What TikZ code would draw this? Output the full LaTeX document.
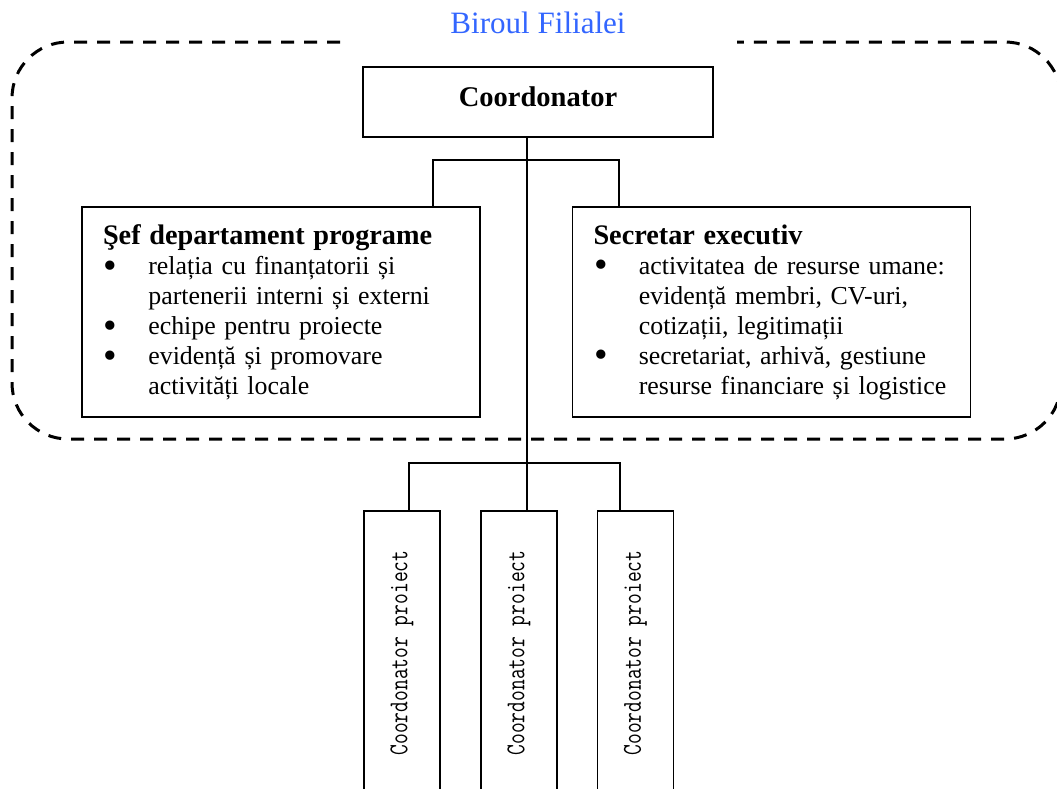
\documentclass[tikz,border=0pt]{standalone}
\usepackage{fontspec}
\usepackage{graphicx}
\usepackage{tikz}
\usetikzlibrary{positioning}
\setmainfont{Liberation Serif}

\definecolor{titleblue}{RGB}{51,102,255}
\newcommand{\bul}{\makebox[34pt][l]{\hspace{0.5pt}\raisebox{-2.9pt}[0pt][0pt]{\scalebox{1.5}{\textbullet}}}}
\newcommand{\ind}{\hspace*{34pt}}
\newcommand{\head}[1]{{\fontsize{21.2}{22.5}\selectfont\bfseries #1}}
\newcommand{\projtext}{\scalebox{1}[1.3]{\ttfamily\fontsize{15.7}{16}\selectfont Coordonator proiect}}

\begin{document}
\begin{tikzpicture}[x=0.75pt, y=-0.75pt,
        box/.style={draw, line width=1.3pt, rectangle},
        dept/.style={box, minimum width=298.5pt, minimum height=157.5pt, text width=267pt, inner xsep=15.75pt, align=left, font=\fontsize{19.4}{22.5}\selectfont},
        projbox/.style={box, rotate=90, minimum width=213pt, minimum height=57pt, inner sep=0pt},
        link/.style={line width=1.3pt}]
    \useasboundingbox (0,0) rectangle (1057,789);
    \clip (0,0) rectangle (1057,789);

    % office frame
    \draw[line width=2.25pt, dash pattern=on 9.75pt off 7.5pt, rounded corners=42pt]
        (340,42) -- (12,42) -- (12,439) -- (1061,439) -- (1061,42) -- (737,42);
    \node[text=titleblue, font=\fontsize{23.3}{26}\selectfont, anchor=base] (title) at (538,33) {Biroul Filialei};

    \node[box, minimum width=262.5pt, minimum height=52.5pt, text depth=8.5pt, font=\fontsize{21.4}{24}\selectfont\bfseries] (coord) at (538,102) {Coordonator};

    \node[dept] (prog) at (281,312) {\head{Şef departament programe}\\
        \bul relația cu finanțatorii și\\
        \ind partenerii interni și externi\\
        \bul echipe pentru proiecte\\
        \bul evidență și promovare\\
        \ind activități locale};
    \node[dept] (secr) at (771.5,312) {\head{Secretar executiv}\\
        \bul activitatea de resurse umane:\\
        \ind evidență membri, CV-uri,\\
        \ind cotizații, legitimații\\
        \bul secretariat, arhivă, gestiune\\
        \ind resurse financiare și logistice};

    % project coordinators
    \node[projbox] (p1) at (402,653) {\projtext};
    \node[projbox] (p2) at (519,653) {\projtext};
    \node[projbox] (p3) at (635.5,653) {\projtext};

    \coordinate (ja) at (433,160);
    \coordinate (jc) at (527,160);
    \coordinate (jb) at (619,160);
    \coordinate (ka) at (409,463);
    \coordinate (kc) at (527,463);
    \coordinate (kb) at (620,463);

    \draw[link] (jc |- coord.south) -- (kc |- p2.east);
    \draw[link] (ja |- prog.north) -- (ja) -- (jb) -- (jb |- secr.north);
    \draw[link] (ka |- p1.east) -- (ka) -- (kb) -- (kb |- p3.east);
\end{tikzpicture}
\end{document}
